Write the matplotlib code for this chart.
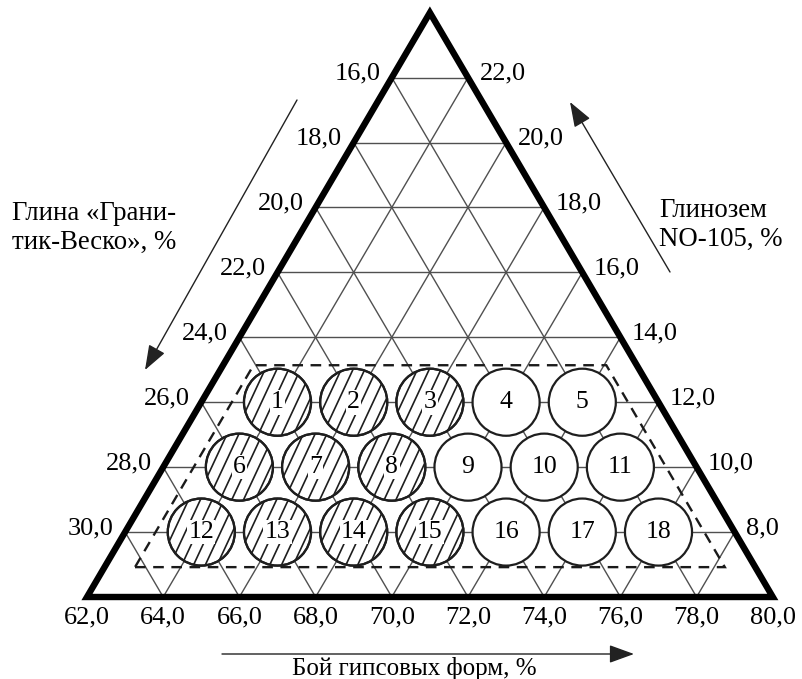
import numpy as np
import matplotlib
matplotlib.use('Agg')
import matplotlib.pyplot as plt
from matplotlib.patches import Circle, Polygon

plt.rcParams['font.family'] = ['Liberation Serif', 'DejaVu Serif']

# ---------------- data ----------------
n_div = 9
bottom_ticks = [62.0, 64.0, 66.0, 68.0, 70.0, 72.0, 74.0, 76.0, 78.0, 80.0]
left_ticks = [16.0, 18.0, 20.0, 22.0, 24.0, 26.0, 28.0, 30.0]     # grid rows 1..8 from apex
right_ticks = [22.0, 20.0, 18.0, 16.0, 14.0, 12.0, 10.0, 8.0]     # grid rows 1..8 from apex
sample_ids = list(range(1, 19))
sample_row = [6, 6, 6, 6, 6, 7, 7, 7, 7, 7, 7, 8, 8, 8, 8, 8, 8, 8]
sample_pos = [1, 2, 3, 4, 5, 1, 2, 3, 4, 5, 6, 1, 2, 3, 4, 5, 6, 7]
sample_hatched = [1, 2, 3, 6, 7, 8, 12, 13, 14, 15]
region_rows = [5.43, 8.54]      # dashed study region: top and bottom grid row
region_inset = 0.40

bottom_title = 'Бой гипсовых форм, %'
left_title = 'Глина «Грани-\nтик-Веско», %'
right_title = 'Глинозем\nNO-105, %'

# ---------------- layout ----------------
ROW_H = 0.852          # row height in grid-step units
PX = 76.2              # pixels per grid step
W, H = 802, 679
X0, Y0 = 87, 597       # pixel position of the bottom-left corner

def node(k, j):
    """grid node on row k (0 = apex) at position j along the row"""
    return (n_div / 2 - k / 2 + j, (n_div - k) * ROW_H)

fig = plt.figure(figsize=(W / 100, H / 100), dpi=100)
ax = fig.add_axes([0, 0, 1, 1])
ax.set_xlim(-X0 / PX, (W - X0) / PX)
ax.set_ylim(-(H - Y0) / PX, Y0 / PX)
ax.axis('off')

grid_kw = dict(color='#505050', lw=1.0, zorder=1, solid_capstyle='butt')
# horizontal lines
for k in range(1, n_div):
    a, b = node(k, 0), node(k, k)
    ax.plot([a[0], b[0]], [a[1], b[1]], **grid_kw)
# lines parallel to the left side (constant j)
for j in range(1, n_div):
    a, b = node(n_div, j), node(j, j)
    ax.plot([a[0], b[0]], [a[1], b[1]], **grid_kw)
# lines parallel to the right side (constant k-j)
for m in range(1, n_div):
    a, b = node(n_div, n_div - m), node(m, 0)
    ax.plot([a[0], b[0]], [a[1], b[1]], **grid_kw)

# triangle outline
tri = Polygon([node(n_div, 0), node(n_div, n_div), node(0, 0)], closed=True,
              fill=False, ec='black', lw=4.6, joinstyle='miter', zorder=5)
ax.add_patch(tri)

# dashed region
kt, kb = region_rows
reg = [(n_div / 2 - kb / 2 + region_inset, (n_div - kb) * ROW_H),
       (n_div / 2 + kb / 2 - region_inset, (n_div - kb) * ROW_H),
       (n_div / 2 + kt / 2 - region_inset, (n_div - kt) * ROW_H),
       (n_div / 2 - kt / 2 + region_inset, (n_div - kt) * ROW_H)]
ax.add_patch(Polygon(reg, closed=True, fill=False, ec='#1a1a1a', lw=1.7,
                     linestyle=(0, (4.5, 3.2)), zorder=2))

# sample circles
R = 0.44
ang = np.deg2rad(65)
d = np.array([np.cos(ang), np.sin(ang)])
nv = np.array([-np.sin(ang), np.cos(ang)])
hs = 0.14
for sid, k, j in zip(sample_ids, sample_row, sample_pos):
    cx, cy = node(k, j)
    c = Circle((cx, cy), R, fc='white', ec='#1e1e1e', lw=1.6, zorder=3)
    ax.add_patch(c)
    if sid in sample_hatched:
        for t in np.arange(-R + hs * 0.5, R, hs):
            p = np.array([cx, cy]) + t * nv
            q1, q2 = p - 1.2 * R * d, p + 1.2 * R * d
            ln, = ax.plot([q1[0], q2[0]], [q1[1], q2[1]], color='#1e1e1e',
                          lw=1.2, zorder=3.5)
            ln.set_clip_path(c)
        ax.add_patch(Circle((cx, cy), R, fill=False, ec='#1e1e1e', lw=1.6, zorder=3.6))
    ax.text(cx, cy, str(sid), ha='center', va='center', fontsize=18.5, zorder=4,
            bbox=dict(boxstyle='square,pad=0.05', fc='white', ec='none')
            if sid in sample_hatched else None)

def fmt(v):
    return f'{v:.1f}'.replace('.', ',')

# tick labels
TFS = 19
for i, v in enumerate(bottom_ticks):
    x, y = node(n_div, i)
    ax.text(x, y - 0.27, fmt(v), ha='center', va='center', fontsize=TFS)
for i, v in enumerate(left_ticks):
    x, y = node(i + 1, 0)
    ax.text(x - 0.15, y + 0.05, fmt(v), ha='right', va='center', fontsize=TFS)
for i, v in enumerate(right_ticks):
    x, y = node(i + 1, i + 1)
    ax.text(x + 0.15, y + 0.05, fmt(v), ha='left', va='center', fontsize=TFS)

# arrows
arr = dict(arrowstyle='-|>,head_length=1.1,head_width=0.4', color='#222222',
           lw=1.0, shrinkA=0, shrinkB=0, mutation_scale=14)
def pix(px, py):
    return ((px - X0) / PX, (Y0 - py) / PX)
ax.annotate('', xy=pix(634, 654), xytext=pix(222, 654), arrowprops=arr)
ax.annotate('', xy=pix(145, 370), xytext=pix(297, 100), arrowprops=arr)
ax.annotate('', xy=pix(570, 102), xytext=pix(670, 272), arrowprops=arr)

# axis titles
ax.text(*pix(414, 675), bottom_title, ha='center', va='baseline', fontsize=18)
ax.text(*pix(12, 228), left_title, ha='left', va='center', fontsize=19.3,
        linespacing=1.25)
ax.text(*pix(659, 225), right_title, ha='left', va='center', fontsize=19.3,
        linespacing=1.25)

fig.savefig('out.png', dpi=100)
